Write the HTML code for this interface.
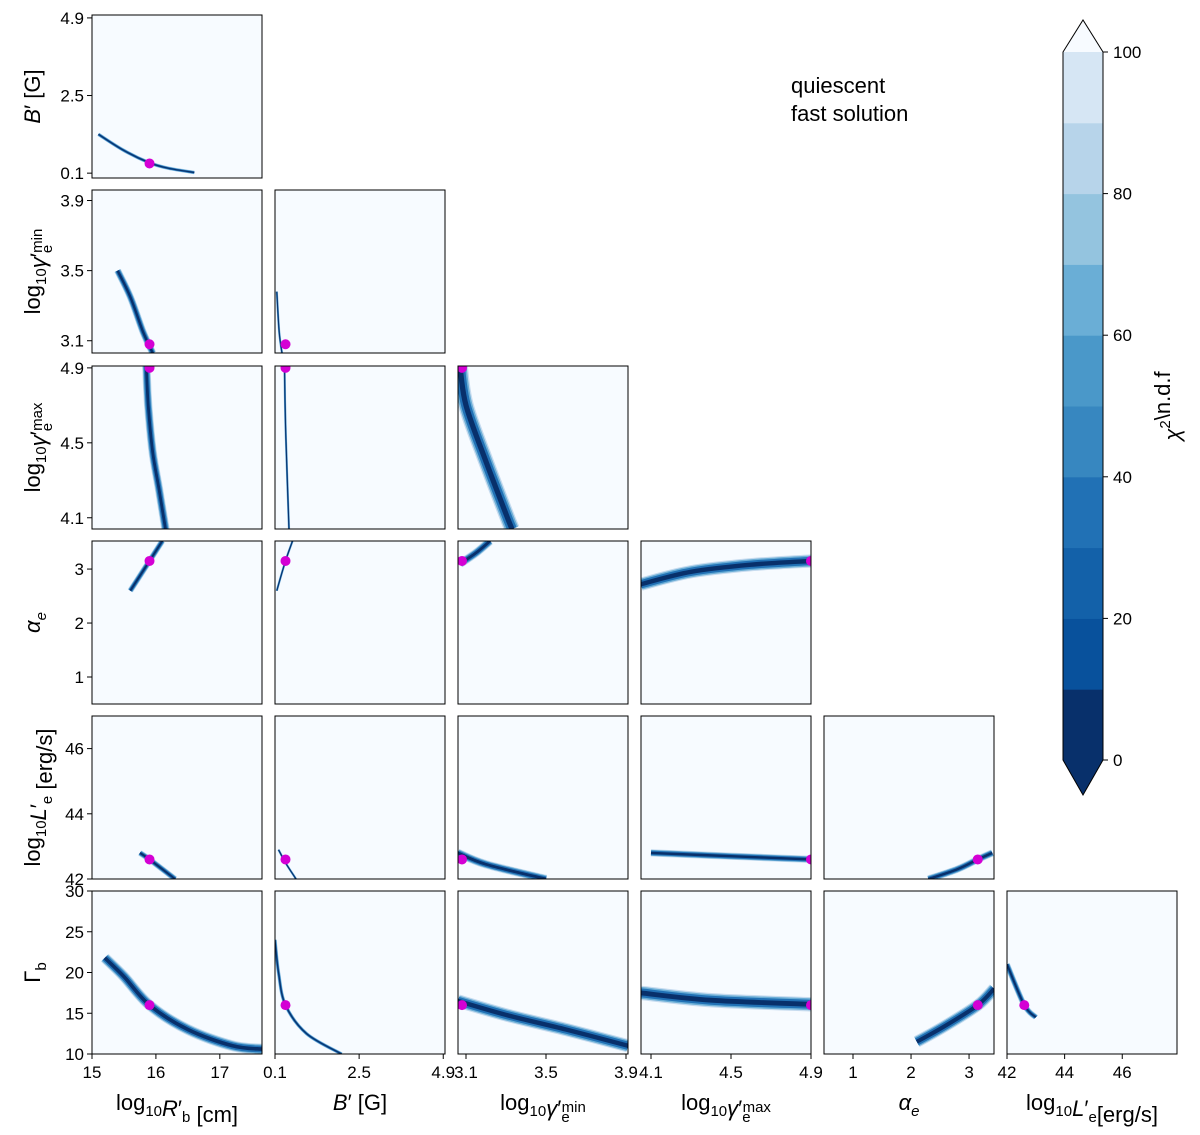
<!DOCTYPE html>
<html><head><meta charset="utf-8">
<style>
html,body{margin:0;padding:0;background:#fff;}
svg{display:block;font-family:"Liberation Sans","DejaVu Sans",sans-serif;}
</style></head>
<body>
<svg id="fig" width="1200" height="1135" viewBox="0 0 1200 1135" xmlns="http://www.w3.org/2000/svg">
<defs id="defs"></defs>
<g id="panels"></g>
<text x="791" y="93" font-size="22">quiescent</text>
<text x="791" y="121" font-size="22">fast solution</text>
<g id="cbar"></g>
</svg>
<script>
// variable order: R, B, gmin, gmax, alpha, L, Gamma
const colLeft = [92, 275, 458, 641, 824, 1007];
const rowTop = [15, 190, 366, 541, 716, 891];
const panelW = 170, panelH = 163;
const xRanges = [[15,17.66],[0.1,4.95],[3.06,3.91],[4.05,4.9],[0.5,3.43],[42,47.9]];
const yRanges = [[-0.05,4.99],[3.03,3.96],[4.04,4.91],[0.5,3.52],[42,47],[10,30]];
const xTicks = [[15,16,17],[0.1,2.5,4.9],[3.1,3.5,3.9],[4.1,4.5,4.9],[1,2,3],[42,44,46]];
const xTickLabels = [["15","16","17"],["0.1","2.5","4.9"],["3.1","3.5","3.9"],["4.1","4.5","4.9"],["1","2","3"],["42","44","46"]];
const yTicks = [[0.1,2.5,4.9],[3.1,3.5,3.9],[4.1,4.5,4.9],[1,2,3],[42,44,46],[10,15,20,25,30]];
const yTickLabels = [["0.1","2.5","4.9"],["3.1","3.5","3.9"],["4.1","4.5","4.9"],["1","2","3"],["42","44","46"],["10","15","20","25","30"]];
const bestX = [15.9, 0.4, 3.08, 4.9, 3.15, 42.6];
const bestY = [0.4, 3.08, 4.9, 3.15, 42.6, 16];
const curves = [
 {r:0,c:0,xs:[15.1,15.5,15.9,16.2,16.6],ys:[1.3,0.8,0.42,0.25,0.12],w:3},
 {r:1,c:0,xs:[15.4,15.6,15.8,15.95],ys:[3.5,3.35,3.15,3.03],w:6},
 {r:1,c:1,xs:[0.15,0.22,0.3],ys:[3.38,3.15,3.03],w:2},
 {r:2,c:0,xs:[15.85,15.88,15.95,16.05,16.15],ys:[4.91,4.7,4.45,4.25,4.04],w:7},
 {r:2,c:1,xs:[0.37,0.4,0.45,0.5],ys:[4.91,4.6,4.3,4.04],w:2},
 {r:2,c:2,xs:[3.07,3.1,3.2,3.3,3.33],ys:[4.91,4.7,4.4,4.12,4.04],w:13},
 {r:3,c:0,xs:[15.6,15.9,16.1],ys:[2.6,3.15,3.52],w:5},
 {r:3,c:1,xs:[0.15,0.4,0.6],ys:[2.6,3.15,3.52],w:2},
 {r:3,c:2,xs:[3.07,3.15,3.22],ys:[3.1,3.3,3.52],w:7},
 {r:3,c:3,xs:[4.05,4.3,4.6,4.9],ys:[2.72,2.95,3.08,3.15],w:11},
 {r:4,c:0,xs:[15.75,15.9,16.3],ys:[42.8,42.6,42.0],w:5},
 {r:4,c:1,xs:[0.2,0.4,0.7],ys:[42.9,42.5,42.0],w:2},
 {r:4,c:2,xs:[3.06,3.2,3.5],ys:[42.8,42.45,42.0],w:7},
 {r:4,c:3,xs:[4.1,4.5,4.9],ys:[42.8,42.7,42.6],w:6},
 {r:4,c:4,xs:[2.3,2.8,3.15,3.4],ys:[42.0,42.3,42.6,42.8],w:6},
 {r:5,c:0,xs:[15.2,15.5,15.9,16.5,17.2,17.66],ys:[21.8,19.5,16,13,11,10.6],w:9},
 {r:5,c:1,xs:[0.1,0.2,0.4,1.0,2.0],ys:[24,20,16,12.5,10],w:3},
 {r:5,c:2,xs:[3.06,3.3,3.6,3.91],ys:[16.5,14.8,13,11],w:11},
 {r:5,c:3,xs:[4.05,4.4,4.9],ys:[17.5,16.6,16.1],w:12},
 {r:5,c:4,xs:[2.1,2.6,3.15,3.43],ys:[11.5,13.5,16,18],w:10},
 {r:5,c:5,xs:[42.0,42.6,43.0],ys:[21,16,14.5],w:5}
];
const cbarLevels = [0,10,20,30,40,50,60,70,80,90,100];
const cbarTicks = [0,20,40,60,80,100];
const cbarColors = ["#08306b","#08519c","#1361a9","#2171b5","#3787c0","#4a98c9","#6aaed6","#94c4df","#b7d4ea","#d6e6f4"];

const NS="http://www.w3.org/2000/svg";
function mk(tag,attrs,parent){const e=document.createElementNS(NS,tag);for(const k in attrs)e.setAttribute(k,attrs[k]);if(parent)parent.appendChild(e);return e;}
function xs(c,v){const r=xRanges[c];return colLeft[c]+(v-r[0])/(r[1]-r[0])*panelW;}
function ys(r,v){const q=yRanges[r];return rowTop[r]+panelH-(v-q[0])/(q[1]-q[0])*panelH;}
function smooth(P){let d='M'+P[0][0].toFixed(1)+','+P[0][1].toFixed(1);
  for(let i=0;i<P.length-1;i++){const p0=P[Math.max(0,i-1)],p1=P[i],p2=P[i+1],p3=P[Math.min(P.length-1,i+2)];
    const c1=[p1[0]+(p2[0]-p0[0])/6,p1[1]+(p2[1]-p0[1])/6],c2=[p2[0]-(p3[0]-p1[0])/6,p2[1]-(p3[1]-p1[1])/6];
    d+='C'+c1[0].toFixed(1)+','+c1[1].toFixed(1)+' '+c2[0].toFixed(1)+','+c2[1].toFixed(1)+' '+p2[0].toFixed(1)+','+p2[1].toFixed(1);}
  return d;}
const g=document.getElementById('panels');
const defs=document.getElementById('defs');
for(let r=0;r<6;r++){for(let c=0;c<=r;c++){
  const pg=mk('g',{},g);
  
  
  const cp=mk('clipPath',{id:'cp'+r+c},defs);
  mk('rect',{x:colLeft[c],y:rowTop[r],width:panelW,height:panelH},cp);
  const bg=mk('rect',{x:colLeft[c],y:rowTop[r],width:panelW,height:panelH,fill:'#f7fbff'},pg);
  
  
  const cg=mk('g',{'clip-path':'url(#cp'+r+c+')'},pg);
  curves.filter(k=>k.r===r&&k.c===c).forEach(k=>{
    const P=k.xs.map((v,i)=>[xs(c,v),ys(r,k.ys[i])]);
    const d=smooth(P);
    [[1.2,'#c6dbef'],[1.0,'#6baed6'],[0.75,'#2171b5'],[0.4,'#08306b']].forEach(s=>{
      const p=mk('path',{d:d,fill:'none',stroke:s[1],'stroke-width':Math.max(1,k.w*s[0]),'stroke-linejoin':'round','stroke-linecap':'butt'},cg);
      
      
    });
  });
  const bp=mk('circle',{cx:xs(c,bestX[c]),cy:ys(r,bestY[r]),r:5,fill:'#d400d4'},cg);
  
  
  const fr=mk('rect',{x:colLeft[c],y:rowTop[r],width:panelW,height:panelH,fill:'none',stroke:'#000','stroke-width':1},pg);
  
  
  if(c===0){yTicks[r].forEach((t,i)=>{const y=ys(r,t);
    mk('line',{x1:colLeft[0]-5,x2:colLeft[0],y1:y,y2:y,stroke:'#000'},pg);
    const tl=mk('text',{x:colLeft[0]-8,y:y+6,'font-size':17,'text-anchor':'end'},pg);tl.textContent=yTickLabels[r][i];
    
    });}
  if(r===5){xTicks[c].forEach((t,i)=>{const x=xs(c,t);
    mk('line',{x1:x,x2:x,y1:rowTop[5]+panelH,y2:rowTop[5]+panelH+5,stroke:'#000'},pg);
    const tl=mk('text',{x:x,y:rowTop[5]+panelH+24,'font-size':17,'text-anchor':'middle'},pg);tl.textContent=xTickLabels[c][i];
    
    });}
}}
// axis labels
const svg=document.getElementById('fig');
function label(html,x,y,rot,name){const t=mk('text',{x:0,y:0,'font-size':22,'text-anchor':'middle',transform:'translate('+x+','+y+')'+(rot?' rotate(-90)':'')},svg);t.innerHTML=html;
  }
const sub=s=>'<tspan font-size="15" dy="6">'+s+'</tspan><tspan dy="-6"></tspan>';
const sup=s=>'<tspan font-size="15" dy="-10">'+s+'</tspan><tspan dy="10"></tspan>';
const gam=(m)=>'log'+sub('10')+'<tspan font-style="italic">γ</tspan>′'+sub('e')+'<tspan font-size="15" dx="-8" dy="-10">'+m+'</tspan><tspan dy="10"></tspan>';
const yl=['<tspan font-style="italic">B</tspan>′ [G]',gam('min'),gam('max'),'<tspan font-style="italic">α</tspan>'+sub('<tspan font-style="italic">e</tspan>'),'log'+sub('10')+'<tspan font-style="italic">L</tspan>′'+sub('e')+' [erg/s]','Γ'+sub('b')];
yl.forEach((h,r)=>label(h,40,rowTop[r]+panelH/2,true,'y-axis-title-'+r));
const xl=['log'+sub('10')+'<tspan font-style="italic">R</tspan>′'+sub('b')+' [cm]','<tspan font-style="italic">B</tspan>′ [G]',gam('min'),gam('max'),'<tspan font-style="italic">α</tspan>'+sub('<tspan font-style="italic">e</tspan>'),'log'+sub('10')+'<tspan font-style="italic">L</tspan>′'+sub('e')+'[erg/s]'];
xl.forEach((h,c)=>label(h,colLeft[c]+panelW/2,1110,false,'x-axis-title-'+c));
// colorbar
const cb=document.getElementById('cbar');
const cbx=1063,cbw=40,cbTop=52,cbBot=760;
const cv=v=>cbBot-(v/100)*(cbBot-cbTop);
mk('polygon',{points:cbx+','+cbBot+' '+(cbx+cbw)+','+cbBot+' '+(cbx+cbw/2)+',795',fill:'#08306b'},cb);
mk('polygon',{points:cbx+','+cbTop+' '+(cbx+cbw)+','+cbTop+' '+(cbx+cbw/2)+',20',fill:'#f7fbff'},cb);
for(let i=0;i<cbarColors.length;i++){const b=mk('rect',{x:cbx,y:cv(cbarLevels[i+1]),width:cbw,height:cv(cbarLevels[i])-cv(cbarLevels[i+1])+0.5,fill:cbarColors[i]},cb);
  }
mk('polygon',{points:cbx+','+cbTop+' '+(cbx+cbw/2)+',20 '+(cbx+cbw)+','+cbTop+' '+(cbx+cbw)+','+cbBot+' '+(cbx+cbw/2)+',795 '+cbx+','+cbBot,fill:'none',stroke:'#000'},cb);
cbarTicks.forEach(t=>{const y=cv(t);mk('line',{x1:cbx+cbw,x2:cbx+cbw+5,y1:y,y2:y,stroke:'#000'},cb);
  const tl=mk('text',{x:cbx+cbw+10,y:y+6,'font-size':17},cb);tl.textContent=String(t);
  });
const ct=mk('text',{x:0,y:0,'font-size':22,'text-anchor':'middle',transform:'translate(1180,406) rotate(-90)'},cb);
ct.innerHTML='<tspan font-style="italic">χ</tspan>'+sup('2')+'\\n.d.f';

</script>
</body></html>
